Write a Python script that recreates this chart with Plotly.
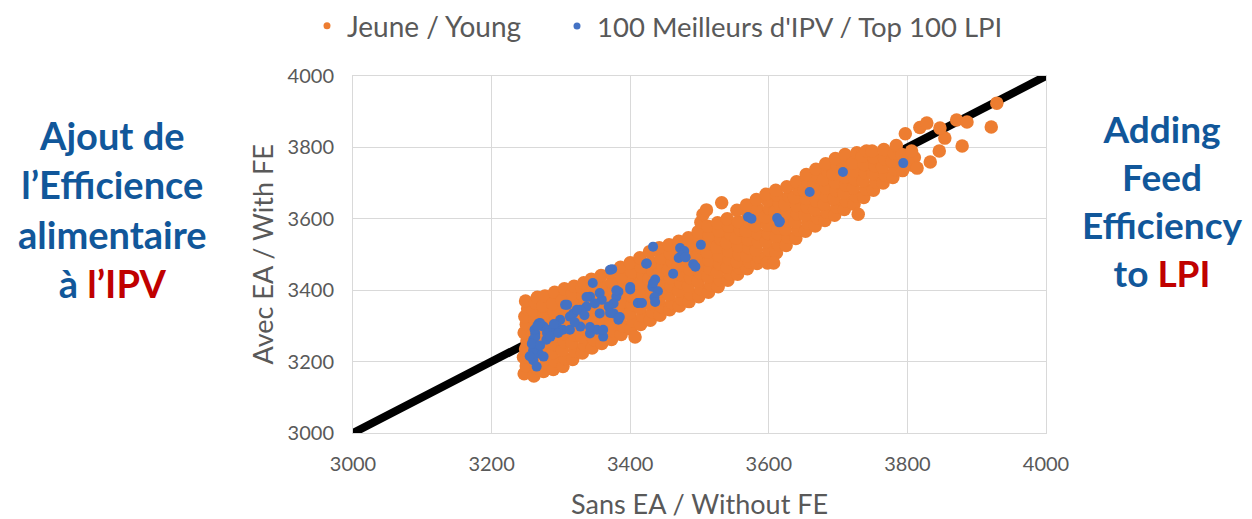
import plotly.graph_objects as go

# ---- data ----
young_points = [
    (3247,3166),(3250,3188),(3246,3212),(3249,3235),(3251,3258),(3247,3281),(3250,3304),(3248,3326),(3252,3348),(3249,3370),
    (3261,3160),(3264,3183),(3260,3207),(3263,3229),(3262,3252),(3259,3276),(3265,3298),(3262,3320),(3260,3343),(3263,3365),(3266,3380),
    (3275,3172),(3278,3196),(3274,3220),(3277,3243),(3276,3266),(3273,3289),(3279,3311),(3276,3334),(3274,3356),(3277,3384),
    (3289,3178),(3292,3201),(3288,3224),(3291,3248),(3290,3271),(3287,3294),(3293,3317),(3290,3340),(3288,3362),(3291,3394),
    (3303,3186),(3306,3209),(3302,3232),(3305,3256),(3304,3279),(3301,3302),(3307,3325),(3304,3348),(3302,3371),(3305,3404),
    (3317,3206),(3320,3229),(3316,3252),(3319,3275),(3318,3298),(3315,3321),(3321,3344),(3318,3367),(3316,3390),(3319,3411),
    (3331,3224),(3334,3247),(3330,3270),(3333,3293),(3332,3316),(3329,3339),(3335,3362),(3332,3385),(3330,3408),(3333,3421),
    (3345,3238),(3348,3261),(3344,3284),(3347,3307),(3346,3330),(3343,3353),(3349,3376),(3346,3399),(3344,3431),
    (3359,3251),(3362,3274),(3358,3297),(3361,3320),(3360,3343),(3357,3366),(3363,3389),(3360,3412),(3358,3441),
    (3373,3262),(3376,3285),(3372,3308),(3375,3331),(3374,3354),(3371,3377),(3377,3400),(3374,3423),(3372,3451),
    (3387,3276),(3390,3299),(3386,3322),(3389,3345),(3388,3368),(3385,3391),(3391,3414),(3388,3437),(3386,3464),
    (3401,3291),(3404,3314),(3400,3337),(3403,3360),(3402,3383),(3399,3406),(3405,3429),(3402,3452),(3400,3477),
    (3415,3304),(3418,3327),(3414,3350),(3417,3373),(3416,3396),(3413,3419),(3419,3442),(3416,3465),(3414,3491),
    (3429,3316),(3432,3339),(3428,3362),(3431,3385),(3430,3408),(3427,3431),(3433,3454),(3430,3477),(3428,3508),
    (3443,3330),(3446,3353),(3442,3376),(3445,3399),(3444,3422),(3441,3445),(3447,3468),(3444,3491),(3442,3519),
    (3457,3345),(3460,3365),(3456,3388),(3459,3411),(3458,3434),(3455,3457),(3461,3480),(3458,3503),(3456,3527),
    (3471,3356),(3474,3375),(3470,3398),(3473,3421),(3472,3444),(3469,3467),(3475,3490),(3472,3513),(3470,3537),
    (3485,3368),(3488,3389),(3484,3412),(3487,3435),(3486,3458),(3483,3481),(3489,3504),(3486,3527),(3484,3547),
    (3499,3382),(3502,3403),(3498,3426),(3501,3449),(3500,3472),(3497,3495),(3503,3518),(3500,3541),(3498,3564),(3502,3590),(3505,3612),
    (3513,3394),(3516,3415),(3512,3438),(3515,3461),(3514,3484),(3511,3507),(3517,3530),(3514,3553),(3512,3579),(3510,3625),
    (3527,3410),(3530,3428),(3526,3451),(3529,3474),(3528,3497),(3525,3520),(3531,3543),(3528,3566),(3526,3589),(3532,3645),
    (3541,3428),(3544,3445),(3540,3464),(3543,3487),(3542,3510),(3539,3533),(3545,3556),(3542,3579),(3540,3600),
    (3555,3445),(3558,3462),(3554,3480),(3557,3500),(3556,3523),(3553,3546),(3559,3569),(3556,3592),(3554,3624),
    (3569,3460),(3572,3478),(3568,3496),(3571,3519),(3570,3542),(3567,3565),(3573,3588),(3570,3611),(3568,3639),
    (3583,3475),(3586,3492),(3582,3512),(3585,3535),(3584,3558),(3581,3581),(3587,3604),(3584,3627),(3582,3654),
    (3597,3492),(3600,3513),(3596,3536),(3599,3559),(3598,3582),(3595,3605),(3601,3628),(3598,3651),(3596,3669),
    (3611,3505),(3614,3528),(3610,3551),(3613,3574),(3612,3597),(3609,3620),(3615,3643),(3612,3666),(3610,3680),
    (3625,3525),(3628,3548),(3624,3571),(3627,3594),(3626,3617),(3623,3640),(3629,3663),(3626,3690),
    (3639,3545),(3642,3568),(3638,3591),(3641,3614),(3640,3637),(3637,3660),(3643,3683),(3640,3704),
    (3653,3565),(3656,3588),(3652,3611),(3655,3634),(3654,3657),(3651,3680),(3657,3703),(3654,3724),
    (3667,3580),(3670,3603),(3666,3626),(3669,3649),(3668,3672),(3665,3695),(3671,3718),(3668,3739),
    (3681,3595),(3684,3618),(3680,3641),(3683,3664),(3682,3687),(3679,3710),(3685,3733),(3682,3754),
    (3695,3610),(3698,3633),(3694,3656),(3697,3679),(3696,3702),(3693,3725),(3699,3748),(3696,3769),
    (3709,3626),(3712,3649),(3708,3672),(3711,3695),(3710,3718),(3707,3741),(3713,3764),(3710,3780),
    (3723,3641),(3726,3664),(3722,3687),(3725,3710),(3724,3733),(3721,3756),(3727,3785),
    (3737,3660),(3740,3683),(3736,3706),(3739,3729),(3738,3752),(3735,3775),(3741,3790),
    (3751,3680),(3754,3703),(3750,3726),(3753,3749),(3752,3772),(3749,3790),
    (3765,3700),(3768,3722),(3764,3745),(3767,3768),(3766,3794),
    (3779,3716),(3782,3738),(3778,3761),(3781,3784),(3784,3805),
    (3793,3735),(3796,3757),(3792,3780),(3797,3838),
    (3807,3750),(3810,3772),(3806,3790),
    (3407,3269),(3598,3476),(3607,3476),(3729,3613),(3814,3742),(3833,3759),(3846,3790),(3879,3804),
    (3854,3826),(3847,3854),(3818,3856),(3828,3868),(3871,3877),(3886,3871),(3921,3857),(3929,3924),
]

top100_points = [
    (3570,3605),(3575,3600),(3612,3602),(3615,3590),(3433,3522),(3472,3518),(3478,3510),(3474,3497),
    (3470,3490),(3480,3492),(3502,3527),(3491,3473),(3494,3466),(3423,3474),(3374,3459),(3462,3446),
    (3436,3430),(3432,3410),(3440,3397),(3435,3380),(3346,3420),(3411,3364),(3436,3367),(3400,3402),
    (3383,3396),(3380,3382),(3376,3363),(3369,3354),(3359,3373),(3349,3363),(3342,3382),(3337,3354),
    (3328,3345),(3318,3335),(3313,3326),(3306,3359),(3299,3317),(3294,3298),(3284,3289),(3275,3298),
    (3268,3307),(3263,3279),(3260,3261),(3263,3242),(3268,3223),(3260,3204),(3265,3186),(3275,3214),
    (3279,3261),(3303,3289),(3313,3289),(3328,3298),(3342,3279),(3352,3289),(3361,3270),(3383,3317),
    (3376,3335),(3356,3335),(3270,3308),(3263,3269),(3260,3232),(3309,3359),(3371,3457),(3337,3381),
    (3356,3392),(3380,3400),(3371,3336),(3361,3289),(3342,3297),(3400,3409),(3424,3475),(3433,3420),
    (3412,3364),(3385,3325),(3323,3345),(3659,3675),(3707,3731),(3794,3756),(3616,3593),(3417,3364),
    (3280,3280),(3258,3250),(3262,3290),(3270,3245),(3255,3215),(3266,3300),(3285,3270),(3290,3305),
    (3296,3280),(3320,3310),(3334,3330),
]

diag_x = [3000, 4000]
diag_y = [3000, 4000]

tick_vals = [3000, 3200, 3400, 3600, 3800, 4000]
tick_text = ["3000", "3200", "3400", "3600", "3800", "4000"]

young_name = "Jeune / Young"
top_name = "100 Meilleurs d'IPV / Top 100 LPI"
x_title = "Sans EA / Without FE"
y_title = "Avec EA / With FE"

young_x = [p[0] for p in young_points]
young_y = [p[1] for p in young_points]
top_x = [p[0] for p in top100_points]
top_y = [p[1] for p in top100_points]

ORANGE = "#ED7D31"
BLUE = "#4472C4"
GRAY = "#595959"
GRID = "#D9D9D9"
NAVY = "#11579A"
RED = "#C00000"
FONT = "Lato"

# page body has an 8px margin: the figure is drawn from (8, 8)
W, H = 1244, 511

fig = go.Figure()
fig.add_trace(go.Scatter(x=diag_x, y=diag_y, mode="lines",
                         line=dict(color="black", width=8), showlegend=False, hoverinfo="skip"))
fig.add_trace(go.Scatter(x=young_x, y=young_y, mode="markers",
                         marker=dict(color=ORANGE, size=13.5), showlegend=False, name=young_name))
fig.add_trace(go.Scatter(x=top_x, y=top_y, mode="markers",
                         marker=dict(color=BLUE, size=10), showlegend=False, name=top_name))
# legend entries
fig.add_trace(go.Scatter(x=[None], y=[None], mode="markers", name=young_name,
                         marker=dict(color=ORANGE, size=7), legend="legend"))
fig.add_trace(go.Scatter(x=[None], y=[None], mode="markers", name=top_name,
                         marker=dict(color=BLUE, size=7), legend="legend2"))

axis_common = dict(range=[3000, 4000], tickvals=tick_vals, ticktext=tick_text,
                   showgrid=True, gridcolor=GRID, gridwidth=1,
                   showline=True, linecolor=GRID, linewidth=1, mirror=True,
                   zeroline=False, ticks="",
                   tickfont=dict(family=FONT, size=20, color=GRAY))

fig.update_layout(
    width=W, height=H,
    margin=dict(l=345, r=206, t=68, b=86),
    paper_bgcolor="white", plot_bgcolor="white",
    xaxis=dict(**axis_common, ticklabelstandoff=13),
    yaxis=dict(**axis_common, ticklabelstandoff=14),
    legend=dict(xref="container", yref="container", x=299/W, y=1-18/H,
                xanchor="left", yanchor="middle", orientation="h",
                font=dict(family=FONT, size=28, color=GRAY), bgcolor="rgba(0,0,0,0)",
                itemclick=False),
    legend2=dict(xref="container", yref="container", x=549/W, y=1-18/H,
                 xanchor="left", yanchor="middle", orientation="h",
                 font=dict(family=FONT, size=27.5, color=GRAY), bgcolor="rgba(0,0,0,0)",
                 itemclick=False),
    showlegend=True,
)

fig.add_annotation(xref="paper", yref="paper", x=0.5, y=(433-503)/357,
                   text=x_title, showarrow=False, xanchor="center", yanchor="middle",
                   font=dict(family=FONT, size=27, color=GRAY))
fig.add_annotation(xref="paper", yref="paper", x=(262-353)/693, y=0.5,
                   text=y_title, showarrow=False, textangle=-90,
                   xanchor="center", yanchor="middle",
                   font=dict(family=FONT, size=27, color=GRAY))

left_text = ("<b>Ajout de<br>l’Efficience<br>alimentaire<br>à "
             f"<span style='color:{RED}'>l’IPV</span></b>")
right_text = ("<b>Adding<br>Feed<br>Efficiency<br>to "
              f"<span style='color:{RED}'>LPI</span></b>")
fig.add_annotation(xref="paper", yref="paper", x=(112-353)/693, y=(433-209)/357,
                   text=left_text, showarrow=False, xanchor="center", yanchor="middle",
                   align="center", font=dict(family=FONT, size=38, color=NAVY))
fig.add_annotation(xref="paper", yref="paper", x=(1162-353)/693, y=(433-200)/357,
                   text=right_text, showarrow=False, xanchor="center", yanchor="middle",
                   align="center", font=dict(family=FONT, size=37, color=NAVY))

fig.write_html("out.html")
